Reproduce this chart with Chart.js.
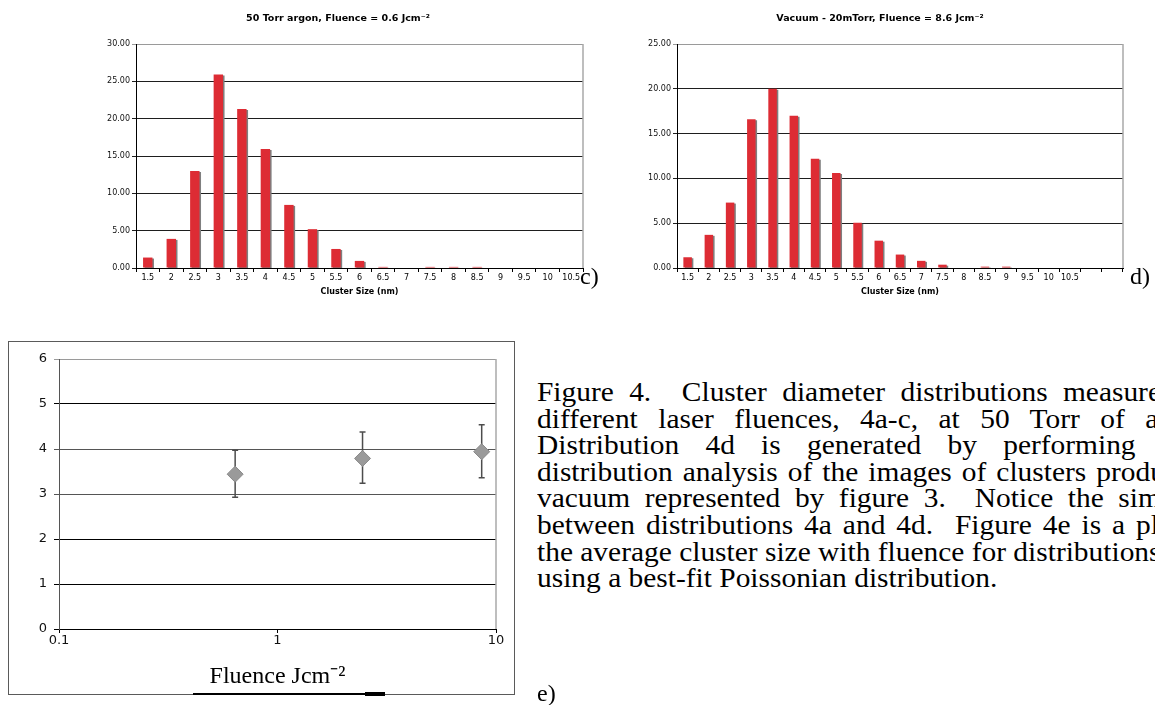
<!DOCTYPE html>
<html>
<head>
<meta charset="utf-8">
<script src="https://cdn.jsdelivr.net/npm/chart.js@4/dist/chart.umd.min.js"></script>
<style>
html, body { margin: 0; padding: 0; background: #fff; }
body { width: 1155px; height: 705px; overflow: hidden; position: relative; }
.abs { position: absolute; }
.serif { font-family: "Liberation Serif", "Times New Roman", serif; color: #000; }
.caption { transform: scaleX(1.09); transform-origin: left top; }
.caption div { white-space: nowrap; }
</style>
</head>
<body>
<div class="abs" style="left:93px;top:0"><canvas id="chartC" width="497" height="300"></canvas></div>
<div class="abs" style="left:637px;top:0"><canvas id="chartD" width="496" height="300"></canvas></div>
<div class="abs" style="left:8px;top:341px;width:505px;height:352px;border:1px solid #5a5a5a">
  <canvas id="chartE" width="505" height="352"></canvas>
</div>
<div class="abs" style="left:193px;top:693px;width:192px;height:2px;background:#000"></div>
<div class="abs" style="left:365px;top:692px;width:20px;height:4px;background:#000"></div>

<div class="abs serif" style="left:580px;top:263px;font-size:24px;line-height:26px">c)</div>
<div class="abs serif" style="left:1130px;top:263px;font-size:24px;line-height:26px">d)</div>
<div class="abs serif" style="left:537px;top:680px;font-size:24px;line-height:26px">e)</div>

<div class="abs serif caption" style="left:537px;top:379px;font-size:27px;line-height:26.6px">
  <div style="word-spacing:7.3px">Figure 4.&nbsp; Cluster diameter distributions measured</div>
  <div style="word-spacing:12px">different laser fluences, 4a-c, at 50 Torr of argon.</div>
  <div style="word-spacing:17.3px">Distribution 4d is generated by performing</div>
  <div style="word-spacing:2.5px">distribution analysis of the images of clusters produced</div>
  <div style="word-spacing:6.6px">vacuum represented by figure 3.&nbsp; Notice the similarity</div>
  <div style="word-spacing:3.3px">between distributions 4a and 4d.&nbsp; Figure 4e is a plot</div>
  <div>the average cluster size with fluence for distributions</div>
  <div>using a best-fit Poissonian distribution.</div>
</div>

<script>
// cluster size bins (nm)
var sizesC = ['1.5','2','2.5','3','3.5','4','4.5','5','5.5','6','6.5','7','7.5','8','8.5','9','9.5','10','10.5'];
var sizesD = ['1.5','2','2.5','3','3.5','4','4.5','5','5.5','6','6.5','7','7.5','8','8.5','9','9.5','10','10.5','',''];

// percentage of clusters in each bin
var argonCounts = [1.4, 3.9, 13.0, 25.9, 21.3, 15.95, 8.45, 5.2, 2.55, 0.95, 0.15, 0, 0.15, 0.15, 0.15, 0, 0, 0, 0];
var vacuumCounts = [1.2, 3.7, 7.3, 16.6, 20.0, 17.0, 12.2, 10.6, 5.05, 3.05, 1.5, 0.8, 0.37, 0, 0.15, 0.15, 0, 0, 0, null, null];

// average size vs fluence (fig e)
var fluence = [0.64, 2.45, 8.6];
var avgSize = [3.44, 3.79, 3.94];
var sizeLow = [2.93, 3.24, 3.36];
var sizeHigh = [3.97, 4.38, 4.54];
var fluenceTicks = [0.1, 1, 10];

var sans = 'DejaVu Sans, Verdana, sans-serif';

// gray drop shadow behind the red bars
var barShadow = {
    id: 'barShadow',
    beforeDatasetsDraw: function(chart) {
        var c = chart.ctx;
        c.save();
        c.shadowColor = '#7f7f7f';
        c.shadowOffsetX = 1.5;
        c.shadowOffsetY = 1;
        c.shadowBlur = 0;
    },
    afterDatasetsDraw: function(chart) {
        chart.ctx.restore();
    }
};

// gray right edge of the plot area
var rightEdge = {
    id: 'rightEdge',
    afterDraw: function(chart) {
        var a = chart.chartArea, c = chart.ctx;
        c.save();
        c.strokeStyle = '#a8a8a8';
        c.lineWidth = 1.5;
        c.beginPath();
        c.moveTo(a.right, a.top);
        c.lineTo(a.right, a.bottom);
        c.stroke();
        c.restore();
    }
};

function histogram(id, labels, values, title, yMax, yWidth, padRight) {
    var ctx = document.getElementById(id).getContext('2d');
    return new Chart(ctx, {
        type: 'bar',
        data: {
            labels: labels,
            datasets: [{
                data: values,
                backgroundColor: '#dd2c34',
                borderWidth: 0,
                barPercentage: 0.4,
                categoryPercentage: 1
            }]
        },
        options: {
            responsive: false,
            animation: false,
            layout: { padding: { left: 0, right: padRight, top: 0, bottom: 0 } },
            plugins: {
                legend: { display: false },
                tooltip: { enabled: false },
                title: {
                    display: true,
                    text: title,
                    color: '#000',
                    font: { family: sans, size: 9.5, weight: 'bold', lineHeight: 1 },
                    padding: { top: 14, bottom: 20.5 }
                }
            },
            scales: {
                x: {
                    afterFit: function(s) { s.height = 32; },
                    grid: { drawOnChartArea: false, drawTicks: true, tickLength: 4, color: '#000', offset: true },
                    border: { color: '#000', width: 1 },
                    ticks: { autoSkip: false, maxRotation: 0, padding: 1, color: '#000', font: { family: sans, size: 8 } },
                    title: {
                        display: true,
                        text: 'Cluster Size (nm)',
                        color: '#000',
                        font: { family: sans, size: 8, weight: 'bold' },
                        padding: { top: 0, bottom: 3 }
                    }
                },
                y: {
                    min: 0,
                    max: yMax,
                    afterFit: function(s) { s.width = yWidth; },
                    ticks: {
                        stepSize: 5,
                        padding: 2,
                        color: '#111',
                        font: { family: sans, size: 8 },
                        callback: function(v) { return v.toFixed(2); }
                    },
                    grid: {
                        tickLength: 4,
                        lineWidth: 1,
                        color: function(c) { return c.tick && c.tick.value === yMax ? '#9a9a9a' : '#1e1e1e'; }
                    },
                    border: { color: '#000', width: 1 }
                }
            }
        },
        plugins: [barShadow, rightEdge]
    });
}

histogram('chartC', sizesC, argonCounts, '50 Torr argon, Fluence = 0.6 Jcm\u207B\u00B2', 30, 43, 7);
histogram('chartD', sizesD, vacuumCounts, 'Vacuum - 20mTorr, Fluence = 8.6 Jcm\u207B\u00B2', 25, 40, 10);

// vertical error bars for fig e
var errorBars = {
    id: 'errorBars',
    beforeDatasetsDraw: function(chart) {
        var c = chart.ctx, xs = chart.scales.x, ys = chart.scales.y;
        c.save();
        c.strokeStyle = '#4d4d4d';
        c.lineWidth = 1.5;
        for (var i = 0; i < fluence.length; i++) {
            var x = xs.getPixelForValue(fluence[i]);
            var lo = ys.getPixelForValue(sizeLow[i]);
            var hi = ys.getPixelForValue(sizeHigh[i]);
            c.beginPath();
            c.moveTo(x, lo); c.lineTo(x, hi);
            c.moveTo(x - 3, lo); c.lineTo(x + 3, lo);
            c.moveTo(x - 3, hi); c.lineTo(x + 3, hi);
            c.stroke();
        }
        c.restore();
    }
};

var points = fluence.map(function(f, i) { return { x: f, y: avgSize[i] }; });

new Chart(document.getElementById('chartE').getContext('2d'), {
    type: 'scatter',
    data: {
        datasets: [{
            data: points,
            pointStyle: 'rectRot',
            pointRadius: 8,
            backgroundColor: '#9a9a9a',
            borderColor: '#8a8a8a',
            borderWidth: 1
        }]
    },
    options: {
        responsive: false,
        animation: false,
        layout: { padding: { left: 0, right: 18, top: 17, bottom: 0 } },
        plugins: { legend: { display: false }, tooltip: { enabled: false } },
        scales: {
            x: {
                type: 'logarithmic',
                min: 0.1,
                max: 10,
                afterBuildTicks: function(s) { s.ticks = fluenceTicks.map(function(v) { return { value: v }; }); },
                afterFit: function(s) { s.height = 65; },
                ticks: {
                    padding: 0,
                    color: '#111',
                    font: { family: sans, size: 13 },
                    callback: function(v) { return String(v); }
                },
                grid: { drawOnChartArea: false, tickLength: 4, color: '#000' },
                border: { color: '#000', width: 1 },
                title: {
                    display: true,
                    text: 'Fluence Jcm\u207B\u00B2',
                    color: '#000',
                    font: { family: 'Liberation Serif, Times New Roman, serif', size: 24 },
                    padding: { top: 0, bottom: 3 }
                }
            },
            y: {
                min: 0,
                max: 6,
                afterFit: function(s) { s.width = 50; },
                ticks: { stepSize: 1, padding: 7, color: '#111', font: { family: sans, size: 13 } },
                grid: {
                    tickLength: 5,
                    color: function(c) {
                        var v = c.tick ? c.tick.value : 0;
                        if (v === 6) return '#9a9a9a';
                        if (v === 3 || v === 4) return '#555';
                        return '#000';
                    }
                },
                border: { color: '#555', width: 1 }
            }
        }
    },
    plugins: [errorBars, rightEdge]
});
</script>
</body>
</html>
